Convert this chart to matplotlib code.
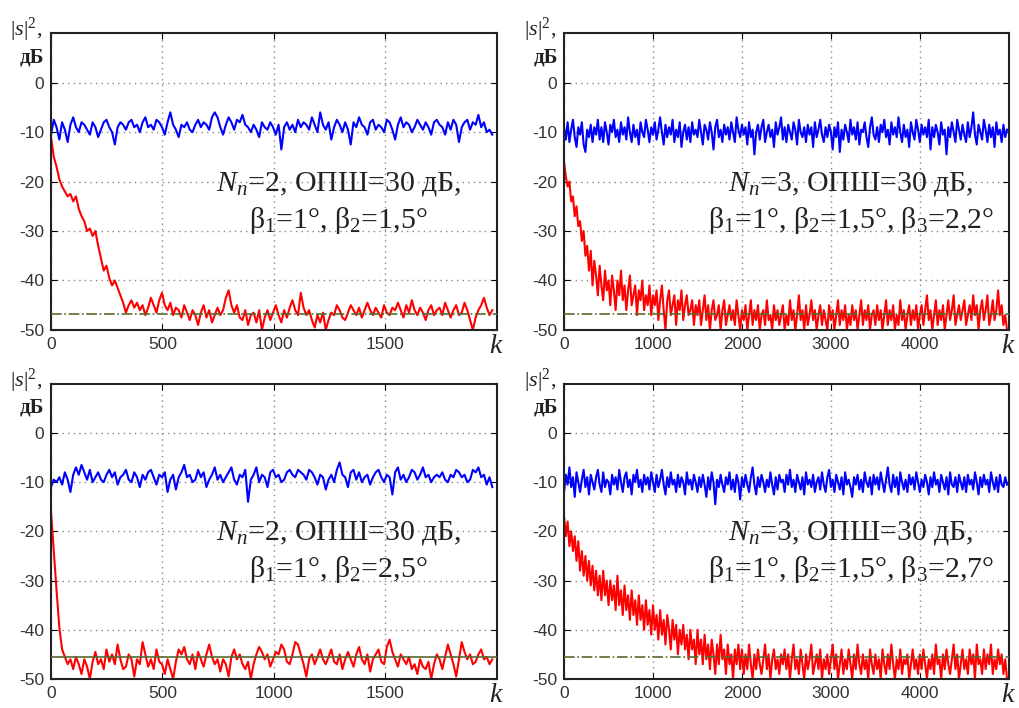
import numpy as np
import matplotlib
matplotlib.use("Agg")
import matplotlib.pyplot as plt

plt.rcParams['font.family'] = ['Liberation Sans', 'DejaVu Sans']
plt.rcParams['axes.unicode_minus'] = False
plt.rcParams['mathtext.fontset'] = 'custom'
plt.rcParams['mathtext.rm'] = 'Liberation Serif'
plt.rcParams['mathtext.it'] = 'Liberation Serif:italic'

# ---- Nn=2, beta2=1.5 (k = 0..1980) ----
bl1 = [-10.5, -7.5, -9.0, -11.5, -8.0, -9.5, -12.0, -8.5, -7.0, -9.0, -10.0, -8.0, -8.5, -9.5, -10.5, -8.0, -9.0, -11.0, -9.5, -8.0,
       -7.5, -9.0, -10.0, -12.5, -9.0, -8.0, -8.5, -9.5, -8.0, -7.5, -9.0, -8.5, -10.0, -8.0, -7.0, -9.0, -8.5, -9.5, -7.5, -8.0,
       -9.0, -10.5, -8.0, -6.0, -8.5, -9.5, -11.0, -8.5, -9.0, -8.0, -9.5, -10.0, -8.5, -7.5, -9.0, -8.0, -8.5, -9.5, -7.0, -6.0,
       -7.0, -9.0, -10.5, -8.5, -7.0, -8.0, -9.5, -7.5, -8.0, -6.5, -8.5, -9.0, -10.0, -8.5, -9.5, -11.0, -8.0, -9.0, -9.5, -8.0,
       -9.0, -10.5, -8.5, -13.5, -9.0, -8.0, -9.5, -8.5, -10.0, -7.5, -9.0, -8.0, -8.5, -9.5, -7.0, -8.5, -10.0, -6.0, -8.5, -9.5,
       -8.0, -11.5, -9.0, -7.5, -8.5, -10.0, -8.0, -9.5, -12.5, -8.0, -9.0, -7.0, -8.5, -9.0, -10.5, -8.0, -7.5, -9.5, -8.5, -9.0,
       -10.0, -7.5, -8.0, -9.5, -11.5, -8.5, -7.0, -9.0, -8.0, -8.5, -10.0, -9.0, -7.5, -8.5, -9.5, -8.0, -9.0, -10.5, -8.0, -7.5,
       -8.5, -9.0, -10.5, -8.0, -9.5, -7.5, -8.5, -12.0, -9.0, -8.0, -7.5, -9.5, -8.0, -8.5, -6.5, -9.0, -8.0, -10.0, -9.5, -10.5]
rd1 = [-11, -15, -17, -19.5, -21, -22, -23, -22.5, -24, -23, -25.5, -27, -28, -30, -29.5, -31, -30, -33, -35.5, -38,
       -37, -39.5, -41, -40, -41.5, -43, -44.5, -46.5, -45, -44, -45.5, -44.5, -46, -45, -47, -45.5, -43.5, -45, -46.5, -44,
       -42.5, -45, -46, -44.5, -47, -45.5, -46, -47.5, -45, -46.5, -48, -46, -47, -49, -46.5, -45, -47.5, -46, -48.5, -47,
       -45.5, -47, -46, -43.5, -42, -45, -46.5, -45, -47.5, -48, -46, -49, -47, -46.5, -48.5, -46, -50, -47.5, -46, -48,
       -46.5, -45, -47, -48.5, -46, -47.5, -45.5, -44, -46, -47, -42.5, -45.5, -47, -46, -48, -49.5, -47, -48.5, -46.5, -50,
       -48, -46.5, -47, -45, -46, -47.5, -48, -46.5, -45, -46, -47, -45.5, -47.5, -46, -44.5, -46, -47, -45.5, -46.5, -47.5,
       -45, -46.5, -47, -45.5, -46, -44.5, -46, -47.5, -45, -46.5, -44, -46, -47, -45.5, -46.5, -48, -46, -45, -47, -46,
       -45.5, -47, -44.5, -46, -47.5, -46, -45, -47, -46.5, -44.5, -46, -48, -50, -47.5, -46, -45, -43.5, -45.5, -47, -46]

# ---- Nn=3, beta3=2.2 (k = 0..4980) ----
bl2 = [-9, -11.5, -8, -12, -9.5, -7.5, -11, -13, -9, -10.5, -8, -12.5, -14, -9.5, -11, -8.5, -12, -9, -10.5, -7.5, -11.5, -9, -12, -8, -10,
       -12.5, -8.5, -10, -7.5, -11, -9.5, -12, -8, -10.5, -9, -11.5, -7, -10, -12, -8.5, -11, -9.5, -12.5, -8, -10, -11, -7.5, -9.5, -12, -9,
       -10.5, -8, -11.5, -9.5, -7, -10, -12.5, -8.5, -11, -9, -10.5, -7.5, -12, -9.5, -11, -8, -13, -10, -8.5, -11.5, -9, -12, -8, -10.5, -9.5,
       -11, -7.5, -10, -12.5, -8.5, -9.5, -11.5, -8, -10, -13.5, -9, -7.5, -11, -9.5, -12, -8.5, -10.5, -9, -11.5, -8, -10, -12, -7, -9.5, -11,
       -8.5, -10.5, -9, -12.5, -8, -11, -9.5, -14.5, -10, -8.5, -11.5, -9, -7.5, -12, -10, -8.5, -11, -9.5, -13, -8, -10.5, -9, -7, -11.5, -9,
       -12, -8.5, -10, -11.5, -8, -9.5, -12.5, -7.5, -10, -11, -9, -12, -8.5, -10.5, -9, -13, -8, -11, -9.5, -7.5, -10.5, -12, -9, -11, -8.5,
       -10, -13.5, -9, -11, -8, -14, -9.5, -11.5, -8.5, -10, -12, -7.5, -10.5, -9, -11.5, -8, -12.5, -9.5, -10, -8, -11, -13, -9, -7, -10.5,
       -11.5, -9, -12, -8.5, -10, -7.5, -11, -9.5, -12.5, -8, -10.5, -9, -11, -7, -10, -12, -8.5, -11, -9.5, -13, -8, -10, -11.5, -7.5, -9.5,
       -12, -8.5, -10.5, -9, -11, -7.5, -13.5, -9, -11, -8.5, -10, -12.5, -8, -10.5, -9.5, -14.5, -9, -11, -8, -10, -12, -7.5, -9.5, -11.5, -8.5,
       -10.5, -12, -8, -11, -9, -6, -10.5, -12.5, -8.5, -10, -11.5, -7.5, -9.5, -12, -8.5, -11, -9, -13, -8, -10.5, -9.5, -12, -8.5, -11, -9.5]
rd2 = [-16, -19, -21, -20, -24, -23, -27, -25, -29, -28, -32, -30, -35, -33, -38, -34, -41, -36, -39, -43, -37, -41, -44, -38, -42,
       -40, -45, -39, -42, -46, -40, -43, -38, -44, -41, -46, -42, -39, -45, -43, -41, -47, -42, -44, -40, -46, -43, -45, -41, -47,
       -43, -45, -42, -48, -44, -41, -46, -50, -44, -42, -47, -45, -43, -49, -44, -46, -42, -48, -45, -43, -47, -46, -44, -49, -45,
       -47, -44, -49, -46, -43, -48, -45, -50, -46, -44, -48, -47, -45, -50, -46, -44, -49, -47, -45, -48, -46, -49, -44, -47, -50,
       -46, -48, -45, -50, -47, -44, -49, -46, -48, -45, -50, -47, -46, -49, -44, -48, -47, -50, -45, -48, -46, -49, -47, -45, -50,
       -47, -49, -44, -48, -46, -50, -47, -43, -48, -46, -50, -45, -49, -47, -44, -48, -46, -50, -47, -45, -49, -46, -48, -50, -45,
       -48, -46, -50, -47, -44, -49, -46, -48, -45, -50, -47, -49, -45, -48, -46, -50, -47, -44, -49, -46, -48, -45, -50, -47, -46,
       -49, -45, -48, -46, -50, -47, -44, -49, -46, -48, -45, -50, -47, -49, -44, -48, -46, -50, -47, -45, -49, -46, -48, -45, -50,
       -47, -45, -49, -46, -43, -48, -46, -50, -47, -44, -49, -46, -48, -45, -50, -47, -44, -48, -46, -43, -49, -47, -45, -48, -46,
       -44, -49, -47, -45, -48, -43, -47, -45, -50, -46, -44, -48, -46, -43, -49, -47, -44, -48, -46, -42, -47, -45, -49, -47, -50]

# ---- Nn=2, beta2=2.5 (k = 0..1980) ----
bl3 = [-11, -9.5, -10, -9, -10.5, -8, -9.5, -12, -8.5, -7, -8.5, -6.5, -8, -9.5, -7.5, -10, -9, -8, -9.5, -10,
       -8.5, -7.5, -9, -8, -10.5, -9, -8.5, -7.5, -9.5, -10, -8, -9, -11, -8.5, -9.5, -8, -7.5, -9, -10.5, -8.5,
       -9, -8, -12, -9.5, -8.5, -11.5, -9, -8, -6.5, -9, -8.5, -10, -9.5, -7.5, -9, -8, -11, -9.5, -8.5, -7,
       -9.5, -8.5, -10, -9, -8, -7, -9.5, -10.5, -8.5, -9, -7.5, -14, -9.5, -8.5, -7, -10, -8.5, -9, -11, -8,
       -7.5, -9, -8.5, -10, -9.5, -8, -7.5, -8.5, -9, -7.5, -8, -8.5, -9.5, -7.5, -8, -9, -10.5, -8.5, -9, -11.5,
       -9.5, -8.5, -10, -7.5, -6, -8.5, -9, -11, -8, -7.5, -9.5, -8, -10, -9, -8.5, -10.5, -9, -8, -7.5, -9,
       -10, -8.5, -9, -12.5, -8, -7, -9.5, -8.5, -10, -9, -7.5, -8, -9.5, -8.5, -7, -9, -8.5, -10, -9, -8.5,
       -9, -8, -9.5, -10, -8.5, -9, -7.5, -8, -9, -8.5, -10, -9.5, -7.5, -8, -7, -9, -8.5, -10.5, -9, -11]
rd3 = [-16, -24, -32, -39.5, -44, -45.5, -47, -46, -48, -45.5, -47, -49, -46, -47.5, -50, -46.5, -44.5, -47, -46, -48,
       -44, -46.5, -45, -47, -43, -46, -48, -47.5, -45, -46, -49.5, -46, -47, -42.5, -45, -47.5, -46, -48, -44, -46.5,
       -47, -49, -46, -48, -50, -46.5, -44, -45, -43.5, -46, -47, -45, -48, -44.5, -46, -47.5, -45, -43, -45.5, -47,
       -46, -48.5, -46, -47, -49.5, -45.5, -44, -46, -45, -47, -48, -46.5, -50, -47, -45, -43.5, -44.5, -46, -45, -47.5,
       -46, -44.5, -45, -43, -44, -46.5, -47, -45, -42.5, -43, -45, -47, -49.5, -46, -45, -47, -45.5, -44, -46, -47,
       -45.5, -44, -46.5, -47, -45, -48, -46, -44.5, -46, -47.5, -45, -43.5, -46, -47, -45, -48.5, -46, -45, -44, -46.5,
       -47, -43.5, -42, -44.5, -46, -47.5, -45, -46, -47, -45.5, -48, -47, -49, -46, -47.5, -48, -46.5, -50, -47, -45,
       -46, -48, -45.5, -43, -45, -47, -49.5, -46, -42.5, -44.5, -46, -45, -47, -46.5, -45, -44, -46, -45.5, -47, -46]

# ---- Nn=3, beta3=2.7 (k = 0..4980) ----
bl4 = [-12, -8.5, -10.5, -7, -11, -9, -13, -8, -10, -12, -9.5, -7.5, -11, -9, -12.5, -8.5, -10, -11.5, -9, -7.5, -10.5, -12, -8, -11, -9.5,
       -10, -12.5, -8.5, -10.5, -9, -11.5, -7.5, -10, -12, -9, -8, -11, -9.5, -12.5, -8.5, -10, -7.5, -11, -9.5, -12, -8.5, -10.5, -9, -11.5, -8,
       -10, -12, -8.5, -11, -9.5, -7.5, -10.5, -12.5, -9, -11, -8, -10.5, -9.5, -12, -8.5, -11, -9, -10, -12.5, -8, -10.5, -9.5, -11.5, -8.5, -10,
       -12, -9, -11, -8.5, -10.5, -13, -9, -11.5, -8, -10, -14.5, -9.5, -11, -8.5, -10.5, -12, -9, -10.5, -8, -11.5, -9.5, -12, -8.5, -10, -13.5,
       -9, -11, -8.5, -10.5, -12, -9, -7, -10.5, -12.5, -9, -11, -8.5, -10, -12, -9.5, -11, -8, -10.5, -12.5, -9, -11.5, -8.5, -10, -9.5, -12,
       -8.5, -10.5, -7.5, -11, -9.5, -12, -8.5, -10, -11.5, -9, -12.5, -8, -10.5, -9.5, -11, -8.5, -12, -10, -9, -11.5, -8, -10.5, -12, -9, -7.5,
       -11, -9.5, -12, -8.5, -10, -11.5, -9, -12.5, -8, -10.5, -9.5, -11, -13, -9, -10.5, -8.5, -11.5, -9.5, -12, -8, -10, -11, -9, -12.5, -8.5,
       -10.5, -9, -11.5, -8, -10, -12, -9.5, -7, -10.5, -12, -8.5, -11, -9, -12.5, -8, -10, -11.5, -9.5, -12, -8.5, -10.5, -9, -11.5, -8, -10,
       -12, -9.5, -11, -8.5, -10, -12.5, -9, -11, -8, -10.5, -9.5, -12, -8.5, -10, -11.5, -9, -12.5, -8, -10.5, -11, -9, -12, -8.5, -10, -11.5,
       -9, -12, -8.5, -10.5, -9.5, -11.5, -8, -10, -12.5, -9, -11, -8.5, -10.5, -9.5, -12, -8, -10, -11.5, -9, -12, -8.5, -10.5, -11, -9, -10.5]
rd4 = [-17, -21, -18, -23, -20, -24, -21, -26, -22, -28, -24, -29, -25, -30, -26, -31, -27, -32, -28, -33, -29, -34, -28, -33, -30,
       -35, -30, -34, -31, -36, -29, -35, -32, -37, -31, -36, -33, -38, -32, -37, -34, -39, -33, -38, -35, -40, -34, -39, -36, -41,
       -35, -40, -37, -42, -36, -41, -38, -43, -37, -40, -44, -38, -42, -39, -45, -40, -43, -39, -44, -41, -46, -40, -44, -42, -47,
       -40, -45, -42, -47, -41, -46, -43, -48, -42, -45, -49, -43, -47, -41, -46, -44, -49, -43, -47, -45, -50, -44, -47, -43, -48,
       -44, -49, -45, -48, -43, -47, -50, -45, -48, -44, -47, -49, -46, -43, -48, -45, -50, -46, -44, -48, -46, -49, -45, -47, -44,
       -48, -45, -50, -46, -43, -48, -46, -49, -44, -47, -50, -45, -48, -46, -43, -49, -47, -45, -48, -44, -50, -46, -48, -45, -49,
       -46, -43, -48, -45, -50, -47, -44, -49, -46, -48, -44, -47, -50, -45, -48, -43, -47, -49, -45, -48, -46, -50, -44, -47, -49,
       -45, -48, -46, -50, -44, -47, -49, -45, -48, -43, -47, -50, -46, -48, -44, -49, -46, -47, -45, -50, -47, -44, -48, -46, -49,
       -45, -48, -44, -47, -50, -46, -48, -45, -49, -43, -47, -46, -50, -45, -48, -44, -47, -49, -46, -43, -48, -45, -50, -47, -44,
       -48, -46, -49, -44, -47, -45, -50, -43, -47, -46, -49, -44, -48, -45, -47, -43, -49, -46, -48, -44, -47, -45, -49, -46, -50]

# steady-state levels (dash-dot lines)
levels = [-46.7, -46.7, -45.5, -45.5]
k_max = [2000, 5000, 2000, 5000]
k_end = [1980, 4980, 1980, 4980]
xticks = [[0, 500, 1000, 1500], [0, 1000, 2000, 3000, 4000],
          [0, 500, 1000, 1500], [0, 1000, 2000, 3000, 4000]]
line1 = [r"$N_n$=2, ОПШ=30 дБ,", r"$N_n$=3, ОПШ=30 дБ,",
         r"$N_n$=2, ОПШ=30 дБ,", r"$N_n$=3, ОПШ=30 дБ,"]
line2 = [r"β$_1$=1°, β$_2$=1,5°", r"β$_1$=1°, β$_2$=1,5°, β$_3$=2,2°",
         r"β$_1$=1°, β$_2$=2,5°", r"β$_1$=1°, β$_2$=1,5°, β$_3$=2,7°"]
blue = [bl1, bl2, bl3, bl4]
red = [rd1, rd2, rd3, rd4]

fig = plt.figure(figsize=(10.2, 7.08), dpi=100)
rects = [[0.050, 0.534, 0.437, 0.419], [0.553, 0.534, 0.436, 0.419],
         [0.050, 0.041, 0.437, 0.417], [0.553, 0.041, 0.436, 0.417]]

serif = 'Liberation Serif'
for i in range(4):
    ax = fig.add_axes(rects[i])
    kb = np.linspace(0, k_end[i], len(blue[i]))
    kr = np.linspace(0, k_end[i], len(red[i]))
    ax.plot(kb, blue[i], color='#0000ff', lw=1.5)
    ax.plot(kr, red[i], color='#ff0000', lw=1.5)
    ls = '-' if i == 2 else '-.'
    ax.axhline(levels[i], color='#556b2f', lw=1.2, ls=ls, zorder=3)

    ax.set_xlim(0, k_max[i])
    ax.set_ylim(-50, 10)
    ax.set_xticks(xticks[i])
    ax.set_yticks([-50, -40, -30, -20, -10, 0])
    ax.grid(True, color='#888888', ls=(0, (1, 3)), lw=1.0)
    ax.tick_params(direction='in', top=True, right=True, length=4,
                   labelsize=12.5, labelcolor='#333333', pad=5)
    for s in ax.spines.values():
        s.set_linewidth(1.5)
        s.set_color('#222222')

    mid = k_max[i] * 0.645
    ax.text(mid, -20.4, line1[i], ha='center', va='center', fontsize=21.5,
            family=serif, color='#222222')
    ax.text(mid, -27.8, line2[i], ha='center', va='center', fontsize=21.5,
            family=serif, color='#222222')

    ax.text(1.0, -0.055, r"$k$", transform=ax.transAxes, ha='center', va='center',
            fontsize=20, family=serif, color='#222222')
    ax.text(-0.055, 1.01, r"|$s$|$^2$,", transform=ax.transAxes, ha='center', va='center',
            fontsize=16, family=serif, color='#222222')
    ax.text(-0.042, 0.918, "дБ", transform=ax.transAxes, ha='center', va='center',
            fontsize=15, family=serif, color='#222222', fontweight='bold')

fig.savefig("out.png", dpi=100)
